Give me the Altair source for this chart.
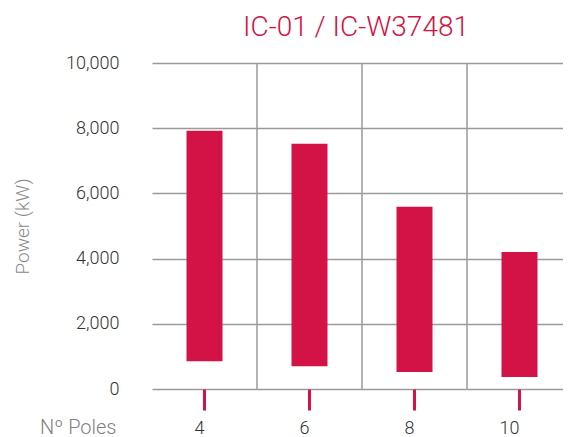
import altair as alt
import pandas as pd

poles = [4, 6, 8, 10]
power_low = [850, 700, 520, 370]
power_high = [7920, 7520, 5590, 4200]
boundary_poles = [6, 8, 10]
y_ticks = [0, 2000, 4000, 6000, 8000, 10000]

RED = "#D31245"
GRID = "#9a9a9a"
FONT = "Roboto"

bars_df = pd.DataFrame({"poles": poles, "low": power_low, "high": power_high})
bounds_df = pd.DataFrame({"poles": boundary_poles})

x_scale = alt.Scale(domain=poles, range=[17, 437], paddingInner=0, paddingOuter=0)
y_scale = alt.Scale(domain=[0, 10000], nice=False)

bars = alt.Chart(bars_df).mark_bar(color=RED, size=36).encode(
    x=alt.X(
        "poles:O",
        scale=x_scale,
        axis=alt.Axis(
            title="Nº Poles",
            titleX=-19,
            titleY=38,
            titleAlign="right",
            titleBaseline="middle",
            titleAngle=0,
            titleFont=FONT,
            titleFontSize=20,
            titleFontWeight=300,
            titleColor="#808080",
            labelAngle=0,
            labelFont=FONT,
            labelFontSize=18,
            labelFontWeight=300,
            labelColor="#333333",
            labelBaseline="middle",
            labelPadding=18,
            domain=False,
            grid=False,
            ticks=True,
            tickColor=RED,
            tickWidth=3,
            tickSize=21,
        ),
    ),
    y=alt.Y(
        "low:Q",
        scale=y_scale,
        axis=alt.Axis(
            values=y_ticks,
            format=",d",
            title="Power (kW)",
            titleX=-113,
            titleY=163,
            titleAngle=-90,
            titleAlign="center",
            titleBaseline="middle",
            titleFont=FONT,
            titleFontSize=19,
            titleFontWeight=300,
            titleColor="#8a8a8a",
            labelFont=FONT,
            labelFontSize=18,
            labelFontWeight=300,
            labelColor="#333333",
            labelPadding=16,
            domain=False,
            ticks=False,
            tickSize=0,
            grid=True,
            gridColor=GRID,
            gridWidth=1.5,
        ),
    ),
    y2="high:Q",
)

vlines = alt.Chart(bounds_df).mark_rule(color=GRID, strokeWidth=1.5).encode(
    x=alt.X("poles:O", bandPosition=0, scale=x_scale),
    y=alt.datum(0),
    y2=alt.datum(10000),
)

chart = (
    alt.layer(vlines, bars)
    .properties(
        width=428,
        height=326,
        padding={"left": 127, "top": 55, "right": 0, "bottom": 48},
        autosize=alt.AutoSizeParams(type="none"),
        title=alt.TitleParams(
            text="IC-01 / IC-W37481",
            font=FONT,
            fontSize=28,
            fontWeight=300,
            color=RED,
            anchor="middle",
            offset=12,
            dx=7,
        ),
    )
    .configure_view(stroke=None)
)

chart.save("out.html", embed_options={"renderer": "svg", "actions": False})
